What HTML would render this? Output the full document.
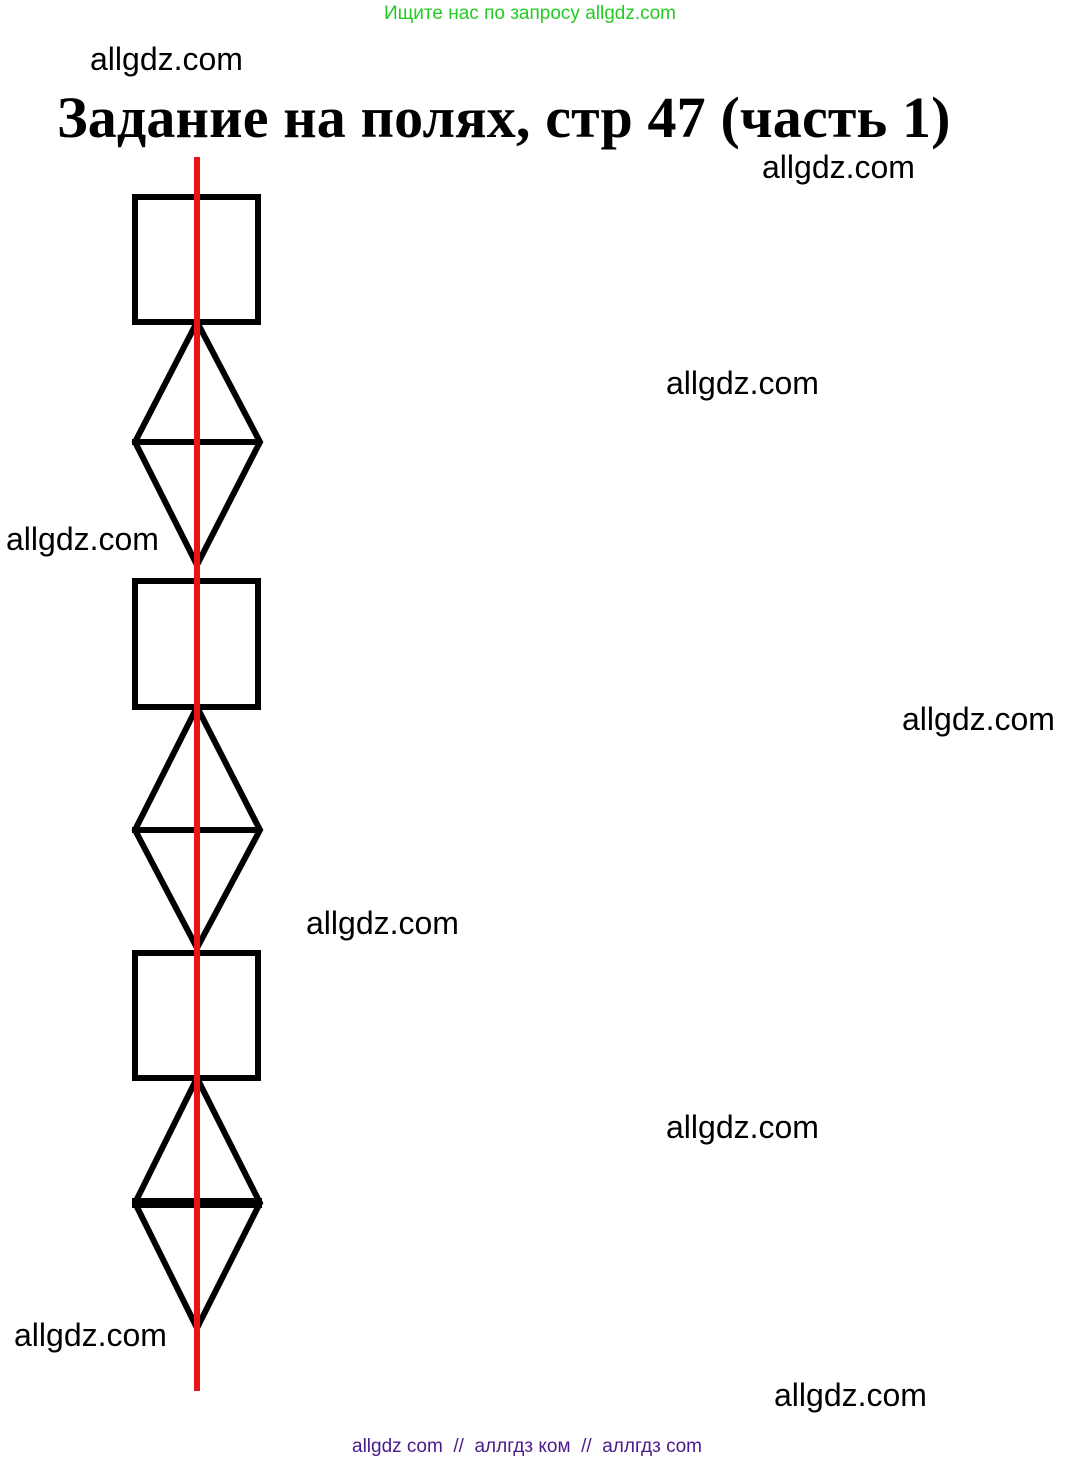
<!DOCTYPE html>
<html><head><meta charset="utf-8"><style>
body{margin:0;width:1068px;height:1464px;background:#fff;position:relative;overflow:hidden;font-family:"Liberation Sans",sans-serif}
.t{position:absolute;font-size:32px;color:#000;white-space:nowrap;line-height:1}
</style></head><body>
<div class="t" style="left:384px;top:4px;font-size:19px;color:#22cc22">Ищите нас по запросу allgdz.com</div>
<div class="t" style="left:90px;top:43px">allgdz.com</div>
<div class="t" style="left:57px;top:89px;font-family:'Liberation Serif',serif;font-weight:bold;font-size:58px;letter-spacing:0.15px">Задание на полях, стр 47 (часть 1)</div>
<div class="t" style="left:762px;top:151px">allgdz.com</div>
<div class="t" style="left:666px;top:367px">allgdz.com</div>
<div class="t" style="left:6px;top:523px">allgdz.com</div>
<div class="t" style="left:902px;top:703px">allgdz.com</div>
<div class="t" style="left:306px;top:907px">allgdz.com</div>
<div class="t" style="left:666px;top:1111px">allgdz.com</div>
<div class="t" style="left:14px;top:1319px">allgdz.com</div>
<div class="t" style="left:774px;top:1379px">allgdz.com</div>
<div class="t" style="left:352px;top:1437px;font-size:19px;color:#4b1a8a">allgdz com &nbsp;// &nbsp;аллгдз ком &nbsp;// &nbsp;аллгдз com</div>
<svg width="1068" height="1464" style="position:absolute;left:0;top:0" fill="none" stroke="#000" stroke-width="6">
<rect x="135" y="197" width="123" height="125"/>
<polygon points="197,322 135,442 197,565 260,442"/>
<line x1="132" y1="442" x2="262" y2="442"/>
<rect x="135" y="581" width="123" height="126"/>
<polygon points="197,707 135,830 197,948 260,830"/>
<line x1="132" y1="830" x2="262" y2="830"/>
<rect x="135" y="953" width="123" height="125"/>
<polygon points="197,1078 135,1203 197,1328 260,1203"/>
<line x1="132" y1="1203" x2="262" y2="1203" stroke-width="10"/>
<line x1="197" y1="157" x2="197" y2="1391" stroke="#e8141a" stroke-width="6"/>
</svg>
</body></html>
